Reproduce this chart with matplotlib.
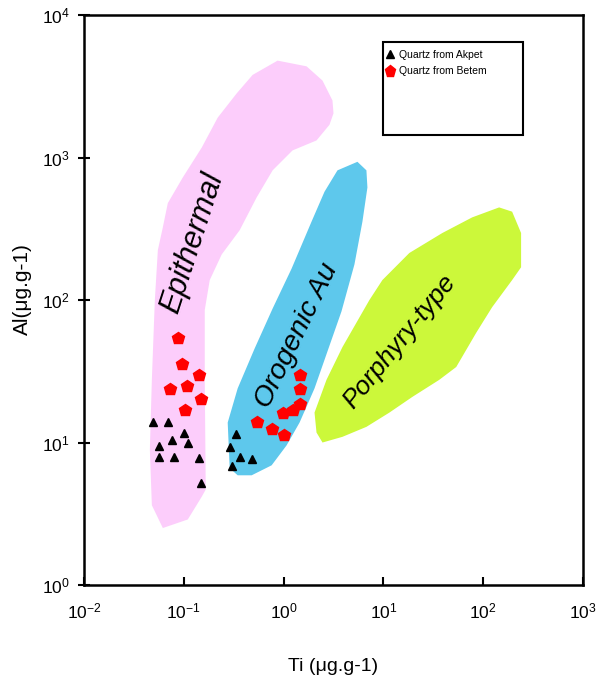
import numpy as np
import matplotlib
matplotlib.use("Agg")
import matplotlib.pyplot as plt
from matplotlib.patches import Polygon, Rectangle

plt.rcParams['font.family'] = ['Liberation Sans', 'DejaVu Sans']

# Ti / Al (ug/g) of quartz samples
ti_akpet = [0.049, 0.070, 0.100, 0.076, 0.057, 0.110, 0.057, 0.080, 0.142, 0.149,
            0.331, 0.290, 0.366, 0.479, 0.306]
al_akpet = [14.0, 14.0, 11.7, 10.4, 9.45, 9.87, 7.95, 7.95, 7.82, 5.22,
            11.5, 9.25, 7.95, 7.62, 6.84]

ti_betem = [0.088, 0.095, 0.143, 0.108, 0.073, 0.149, 0.103,
            1.46, 1.46, 1.46, 1.23, 0.99, 0.545, 0.77, 1.01]
al_betem = [53.9, 35.4, 29.8, 24.9, 23.7, 20.1, 16.9,
            29.8, 23.6, 18.5, 16.9, 16.2, 14.0, 12.4, 11.3]

# deposit fields, outlines as log10(Ti), log10(Al)
epi_logti = [-0.31, -0.06, 0.23, 0.39, 0.49, 0.50, 0.46, 0.33, 0.09, -0.11, -0.27, -0.44,
             -0.62, -0.74, -0.79, -0.79, -0.78, -0.82, -0.96, -1.21, -1.32, -1.34, -1.32,
             -1.29, -1.26, -1.21, -1.16, -1.01, -0.82, -0.66, -0.47]
epi_logal = [3.58, 3.68, 3.64, 3.54, 3.40, 3.31, 3.23, 3.12, 3.05, 2.91, 2.72, 2.49,
             2.32, 2.14, 1.93, 1.44, 0.67, 0.62, 0.46, 0.40, 0.56, 0.95, 1.44,
             2.00, 2.35, 2.51, 2.68, 2.86, 3.07, 3.28, 3.45]

oro_logti = [0.54, 0.74, 0.83, 0.84, 0.79, 0.71, 0.58, 0.44, 0.31, 0.16, 0.03, -0.12,
             -0.32, -0.46, -0.54, -0.56, -0.46, -0.29, -0.11, 0.08, 0.28, 0.41]
oro_logal = [2.91, 2.97, 2.91, 2.79, 2.55, 2.25, 1.92, 1.64, 1.38, 1.14, 0.98, 0.84,
             0.77, 0.77, 0.82, 1.14, 1.38, 1.66, 1.94, 2.22, 2.55, 2.76]

por_logti = [2.16, 2.29, 2.38, 2.38, 2.29, 2.09, 1.93, 1.73, 1.56, 1.29, 1.06, 0.83,
             0.59, 0.39, 0.33, 0.31, 0.43, 0.59, 0.86, 0.99, 1.26, 1.59, 1.89]
por_logal = [2.65, 2.62, 2.47, 2.23, 2.14, 1.95, 1.77, 1.53, 1.44, 1.32, 1.21, 1.11,
             1.04, 1.00, 1.07, 1.21, 1.44, 1.67, 2.00, 2.14, 2.33, 2.47, 2.58]

fig = plt.figure(figsize=(5.97, 6.86), dpi=100)
ax = fig.add_axes([0.1407, 0.1472, 0.8358, 0.8309])
ax.set_xscale('log')
ax.set_yscale('log')
ax.set_xlim(1e-2, 1e3)
ax.set_ylim(1e0, 1e4)

fields = [(epi_logti, epi_logal, '#fccdfb'),
          (oro_logti, oro_logal, '#5ec8ec'),
          (por_logti, por_logal, '#ccf83a')]
for lt, la, col in fields:
    pts = np.column_stack([np.power(10.0, lt), np.power(10.0, la)])
    ax.add_patch(Polygon(pts, closed=True, facecolor=col, edgecolor='none', zorder=1))

ax.text(10**-0.91, 10**2.40, 'Epithermal', rotation=72, style='italic', fontsize=22,
        ha='center', va='center', zorder=2)
ax.text(10**0.13, 10**1.75, 'Orogenic Au', rotation=64, style='italic', fontsize=20.5,
        ha='center', va='center', zorder=2)
ax.text(10**1.16, 10**1.71, 'Porphyry-type', rotation=51, style='italic', fontsize=19,
        ha='center', va='center', zorder=2)

ax.plot(ti_akpet, al_akpet, linestyle='none', marker='^', color='black', markersize=6,
        label='Quartz from Akpet', zorder=3)
ax.plot(ti_betem, al_betem, linestyle='none', marker='p', color='red', markersize=9,
        label='Quartz from Betem', zorder=3)

# legend box
ax.add_patch(Rectangle((0.599, 0.789), 0.281, 0.164, transform=ax.transAxes,
                       facecolor='white', edgecolor='black', linewidth=1.5, zorder=4))
ax.legend(loc='upper left', bbox_to_anchor=(0.585, 0.955), frameon=False, fontsize=7.5,
          handlelength=1.0, handletextpad=0.3, borderpad=0.4, labelspacing=0.6,
          markerscale=0.9).set_zorder(5)

for s in ax.spines.values():
    s.set_linewidth(1.8)

ax.minorticks_off()
ax.tick_params(axis='y', direction='inout', length=9, width=1.5, labelsize=12.5, pad=6)
ax.tick_params(axis='x', direction='in', length=6, width=1.5, labelsize=12.5, pad=12)

ax.set_xlabel('Ti (μg.g-1)', fontsize=14, labelpad=26)
ax.set_ylabel('Al(μg.g-1)', fontsize=15, labelpad=12)
ax.yaxis.set_label_coords(-0.105, 0.52)

fig.savefig('out.png', dpi=100)
